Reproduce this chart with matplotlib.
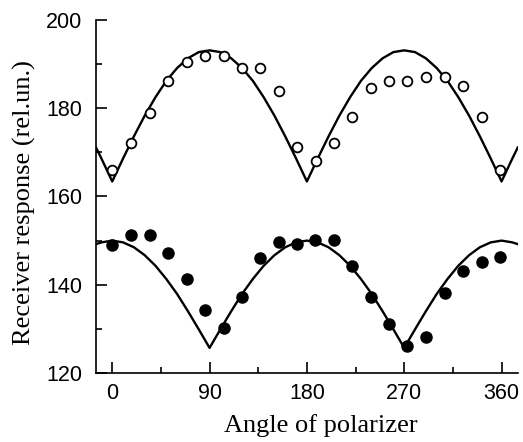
import matplotlib
matplotlib.use("Agg")
import matplotlib.pyplot as plt
from matplotlib.ticker import MultipleLocator

# Measured points
open_angle = [0, 17, 34.5, 52, 69, 85.5, 103, 120, 137, 154, 170.5, 188, 205, 222, 239, 256, 273, 290.5, 308, 324.5, 342, 359]
open_resp = [166.1, 172.0, 178.9, 186.1, 190.4, 191.9, 191.9, 189.1, 189.1, 184.0, 171.1, 168.0,
             172.0, 178.0, 184.6, 186.1, 186.1, 187.0, 187.0, 185.1, 178.0, 166.1]
filled_angle = [0, 17.5, 34.5, 52, 69, 86, 103, 120, 136.5, 154, 170.5, 187.5, 205, 222, 239, 256, 273, 290.5, 308, 324.5, 342, 359]
filled_resp = [149.1, 151.2, 151.2, 147.2, 141.2, 134.2, 130.1, 137.2, 146.1, 149.6, 149.2, 150.1,
               150.1, 144.2, 137.2, 131.2, 126.2, 128.2, 138.1, 143.1, 145.1, 146.3]

# Fitted curves
curve_angle = [-15, -10, 0, 10, 20, 30, 40, 50, 60, 70, 80, 90, 100, 110, 120, 130, 140, 150, 160, 170, 180,
               190, 200, 210, 220, 230, 240, 250, 260, 270, 280, 290, 300, 310, 320, 330, 340, 350, 360, 370, 375]
upper_curve = [171.1, 168.6, 163.4, 168.6, 173.6, 178.3, 182.5, 186.2, 189.1, 191.3, 192.7, 193.1,
               192.7, 191.3, 189.1, 186.2, 182.5, 178.3, 173.6, 168.6, 163.4,
               168.6, 173.6, 178.3, 182.5, 186.2, 189.1, 191.3, 192.7, 193.1,
               192.7, 191.3, 189.1, 186.2, 182.5, 178.3, 173.6, 168.6, 163.4, 168.6, 171.1]
lower_curve = [149.2, 149.6, 150.0, 149.6, 148.5, 146.7, 144.3, 141.3, 137.9, 134.0, 129.9, 125.7,
               129.9, 134.0, 137.9, 141.3, 144.3, 146.7, 148.5, 149.6, 150.0,
               149.6, 148.5, 146.7, 144.3, 141.3, 137.9, 134.0, 129.9, 125.7,
               129.9, 134.0, 137.9, 141.3, 144.3, 146.7, 148.5, 149.6, 150.0, 149.6, 149.2]

x_ticks = [0, 90, 180, 270, 360]
y_ticks = [120, 140, 160, 180, 200]

fig = plt.figure(figsize=(5.23, 4.42), dpi=100)
ax = fig.add_axes([0.1836, 0.156, 0.8064, 0.799])

ax.plot(curve_angle, upper_curve, color="black", lw=1.7, zorder=2)
ax.plot(curve_angle, lower_curve, color="black", lw=1.7, zorder=2)
ax.plot(open_angle, open_resp, "o", ms=7, mfc="white", mec="black", mew=1.3, ls="none", zorder=3)
ax.plot(filled_angle, filled_resp, "o", ms=8, mfc="black", mec="black", ls="none", zorder=3)

ax.set_xlim(-15, 375)
ax.set_ylim(120, 200)
ax.set_xticks(x_ticks)
ax.set_yticks(y_ticks)
ax.xaxis.set_minor_locator(MultipleLocator(45))
ax.yaxis.set_minor_locator(MultipleLocator(10))
ax.spines["top"].set_visible(False)
ax.spines["right"].set_visible(False)
for s in ("left", "bottom"):
    ax.spines[s].set_linewidth(1.2)
ax.tick_params(which="major", direction="in", length=8, width=1.2, labelsize=15.5)
ax.tick_params(which="minor", direction="in", length=4.5, width=1.2)
ax.tick_params(axis="y", which="major", pad=10)
ax.tick_params(axis="x", which="major", pad=7)
for lab in ax.get_xticklabels() + ax.get_yticklabels():
    lab.set_fontfamily("Liberation Sans")

ax.set_xlabel("Angle of polarizer", fontfamily="Liberation Serif", fontsize=19)
ax.set_ylabel("Receiver response (rel.un.)", fontfamily="Liberation Serif", fontsize=19)
ax.yaxis.set_label_coords(-0.142, 0.484)
ax.xaxis.set_label_coords(0.534, -0.117)

fig.savefig("out.png", dpi=100)
